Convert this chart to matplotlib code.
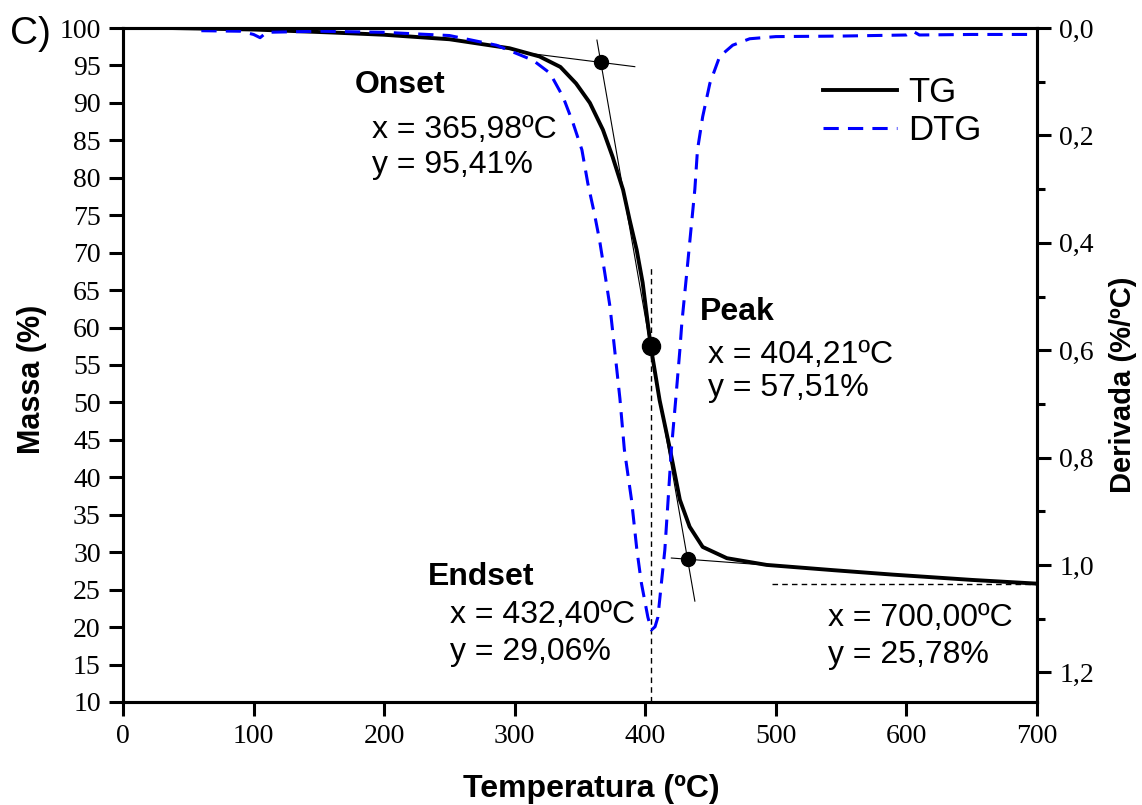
import matplotlib.pyplot as plt
import numpy as np
from matplotlib.ticker import FuncFormatter, MultipleLocator

# curva TG (massa %)
temp_tg = [36, 100, 160, 200, 250, 296, 319, 335, 347, 357.6, 367.6, 375, 383, 388, 393.4,
           398, 404.2, 411, 419, 426.5, 434, 444, 462.5, 493, 544, 590, 650, 700]
massa_tg = [100.0, 99.8, 99.4, 99.1, 98.5, 97.3, 96.2, 94.8, 92.6, 90.0, 86.4, 82.8, 78.4, 74.4, 70.4,
            66.0, 57.5, 50.3, 43.7, 37.0, 33.4, 30.7, 29.2, 28.3, 27.6, 27.0, 26.3, 25.8]

# curva DTG (%/ºC)
temp_dtg = [60, 90, 100, 105, 110, 150, 200, 250, 286, 314, 327, 337, 344.7, 351.5, 356, 361,
            365, 369, 373, 375.5, 380.6, 384, 389.5, 393.6, 397, 402, 404.7, 407.5, 409.7,
            412.4, 415, 417.5, 420, 423.4, 426.5, 428, 431.8, 435.5, 438, 440, 444, 449.5,
            457, 467, 480, 500, 550, 600, 605, 610, 650, 700]
deriv_dtg = [0.005, 0.006, 0.012, 0.018, 0.008, 0.006, 0.008, 0.014, 0.032, 0.06, 0.084, 0.128,
             0.177, 0.227, 0.289, 0.345, 0.395, 0.456, 0.519, 0.575, 0.69, 0.785, 0.879, 0.972,
             1.033, 1.097, 1.121, 1.115, 1.097, 1.033, 0.972, 0.879, 0.785, 0.69, 0.6, 0.55,
             0.456, 0.363, 0.3, 0.227, 0.165, 0.103, 0.053, 0.032, 0.02, 0.016, 0.015, 0.013,
             0.006, 0.013, 0.012, 0.012]

# puntos caracteristicos
onset = (365.98, 95.41)
peak = (404.21, 57.51)
endset = (432.40, 29.06)
final = (700.00, 25.78)

serif = ['Liberation Serif', 'DejaVu Serif']
sans = ['Liberation Sans', 'DejaVu Sans']

fig = plt.figure(figsize=(11.42, 8.05), dpi=100)
ax = fig.add_axes([0.1077, 0.128, 0.8003, 0.8372])
ax2 = ax.twinx()

# TG
l1, = ax.plot(temp_tg, massa_tg, color='black', lw=2.8, label='TG', zorder=5)

# tangentes onset / endset
pend = (endset[1] - onset[1]) / (endset[0] - onset[0])
xs = np.array([363, 438])
ax.plot(xs, onset[1] + pend * (xs - onset[0]), color='black', lw=0.8)
xh = np.array([306, 392])
ax.plot(xh, onset[1] - 0.022 * (xh - onset[0]), color='black', lw=0.8)
xe = np.array([420, 557])
ax.plot(xe, endset[1] - 0.013 * (xe - endset[0]), color='black', lw=0.8)

ax.plot(*onset, 'o', color='black', ms=10, zorder=6)
ax.plot(*endset, 'o', color='black', ms=10, zorder=6)
ax.plot(*peak, 'o', color='black', ms=13, zorder=6)

# lineas punteadas
ax.plot([peak[0], peak[0]], [10, 68.3], color='black', lw=1, ls=(0, (4, 3)))
ax.plot([497, 700], [final[1], final[1]], color='black', lw=1, ls=(0, (4, 3)))

# DTG
l2, = ax2.plot(temp_dtg, deriv_dtg, color='#0000ff', lw=2.2, ls=(0, (5, 3)), label='DTG')

ax.set_xlim(0, 700)
ax.set_ylim(10, 100)
ax2.set_ylim(1.255, 0)

ax.xaxis.set_major_locator(MultipleLocator(100))
ax.yaxis.set_major_locator(MultipleLocator(5))
ax2.yaxis.set_major_locator(MultipleLocator(0.2))
ax2.yaxis.set_minor_locator(MultipleLocator(0.1))
ax2.yaxis.set_major_formatter(FuncFormatter(lambda v, p: f"{v:.1f}".replace('.', ',')))

for a in (ax, ax2):
    for s in a.spines.values():
        s.set_linewidth(2.2)
ax.tick_params(axis='both', direction='out', length=10, width=2.2, labelsize=20, pad=6)
ax.tick_params(top=False)
ax2.tick_params(axis='y', which='major', direction='out', length=10, width=2.2, labelsize=20, pad=6)
ax2.tick_params(axis='y', which='minor', direction='out', length=6, width=2.2)
for lab in ax.get_xticklabels() + ax.get_yticklabels() + ax2.get_yticklabels():
    lab.set_family(serif)

ax.set_xlabel('Temperatura (ºC)', family=sans, fontsize=23, fontweight='bold', labelpad=18)
ax.set_ylabel('Massa (%)', family=sans, fontsize=22, fontweight='bold', labelpad=9)
ax2.set_ylabel('Derivada (%/ºC)', family=sans, fontsize=21, fontweight='bold', labelpad=11)
ax.xaxis.label.set_x(0.512)
ax.yaxis.label.set_y(0.478)
ax2.yaxis.label.set_y(0.47)

# textos
tkw = dict(family=sans, fontsize=23, transform=fig.transFigure, va='center', ha='left')
fig.text(10 / 1142, 1 - 34 / 805, 'C)', family=sans, fontsize=28, transform=fig.transFigure,
         va='center', ha='left')
fig.text(355 / 1142, 1 - 85 / 805, 'Onset', fontweight='bold', **tkw)
fig.text(372 / 1142, 1 - 130 / 805, 'x = 365,98ºC', **tkw)
fig.text(372 / 1142, 1 - 165 / 805, 'y = 95,41%', **tkw)
fig.text(700 / 1142, 1 - 312 / 805, 'Peak', fontweight='bold', **tkw)
fig.text(708 / 1142, 1 - 355 / 805, 'x = 404,21ºC', **tkw)
fig.text(708 / 1142, 1 - 388 / 805, 'y = 57,51%', **tkw)
fig.text(428 / 1142, 1 - 577 / 805, 'Endset', fontweight='bold', **tkw)
fig.text(450 / 1142, 1 - 615 / 805, 'x = 432,40ºC', **tkw)
fig.text(450 / 1142, 1 - 652 / 805, 'y = 29,06%', **tkw)
fig.text(828 / 1142, 1 - 618 / 805, 'x = 700,00ºC', **tkw)
fig.text(828 / 1142, 1 - 655 / 805, 'y = 25,78%', **tkw)

leg = ax2.legend([l1, l2], ['TG', 'DTG'], loc='upper left', bbox_to_anchor=(823 / 1142, 1 - 76 / 805),
                 bbox_transform=fig.transFigure, frameon=False, handlelength=2.13, handletextpad=0.32,
                 labelspacing=0.15, borderpad=0, borderaxespad=0, prop={'family': sans, 'size': 25})

fig.savefig('out.png', dpi=100)
